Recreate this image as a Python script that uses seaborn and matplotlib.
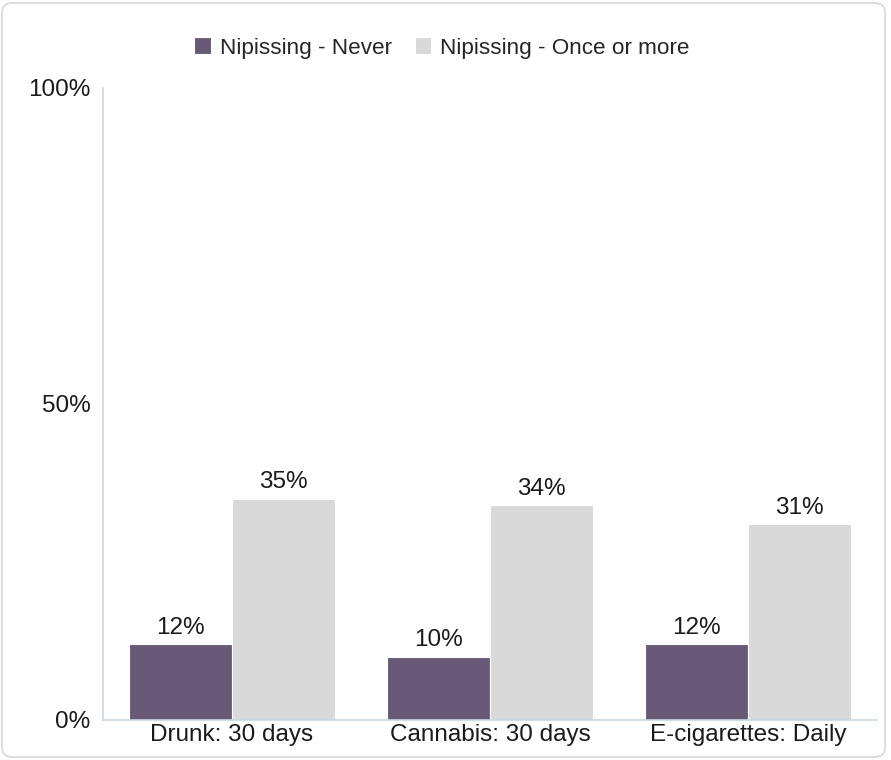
import matplotlib
matplotlib.use("Agg")
import matplotlib.pyplot as plt
import seaborn as sns
import pandas as pd
from matplotlib.patches import FancyBboxPatch

categories = ["Drunk: 30 days", "Cannabis: 30 days", "E-cigarettes: Daily"]
series_names = ["Nipissing - Never", "Nipissing - Once or more"]
never_values = [12, 10, 12]
once_values = [35, 34, 31]
ytick_values = [0, 50, 100]
ytick_labels = ["0%", "50%", "100%"]

colors = ["#68557b", "#d9d9d9"]
axis_color = "#c9d7e6"
fs = 17.5

df = pd.DataFrame({
    "category": categories * 2,
    "series": [series_names[0]] * 3 + [series_names[1]] * 3,
    "value": never_values + once_values,
})

sns.set_theme(style="white")
plt.rcParams["font.family"] = ["Liberation Sans", "DejaVu Sans"]

fig = plt.figure(figsize=(8.91, 7.6), dpi=100)
ax = fig.add_axes([103 / 891, 1 - 720 / 760, (877 - 103) / 891, (720 - 88) / 760])

sns.barplot(data=df, x="category", y="value", hue="series", order=categories,
            hue_order=series_names, palette=colors, width=0.8, gap=0.0,
            edgecolor="white", linewidth=0.8, ax=ax, legend=True)

ax.set_xlim(-0.5, 2.5)
ax.set_ylim(0, 100)
ax.set_xlabel("")
ax.set_ylabel("")
ax.set_yticks(ytick_values)
ax.set_yticklabels(ytick_labels)
ax.tick_params(axis="y", length=0, labelsize=fs, colors="#1a1a1a", pad=9)
ax.tick_params(axis="x", length=0, labelsize=fs, colors="#1a1a1a", pad=3)
ax.set_xticks([-0.5, 0.5, 1.5, 2.5], minor=True)
ax.tick_params(axis="x", which="minor", length=11, width=1, color=axis_color)

for s in ["top", "right"]:
    ax.spines[s].set_visible(False)
for s in ["left", "bottom"]:
    ax.spines[s].set_color(axis_color)
    ax.spines[s].set_linewidth(1.2)

for container in ax.containers:
    ax.bar_label(container, labels=[f"{v:.0f}%" for v in container.datavalues],
                 padding=4, fontsize=fs, color="#1a1a1a")

handles, labels = ax.get_legend_handles_labels()
ax.legend_.remove()
fig.legend(handles, labels, loc="center", bbox_to_anchor=(442 / 891, 1 - 48 / 760),
           ncol=2, frameon=False, fontsize=16.2, handlelength=0.74,
           handleheight=0.74, handletextpad=0.4, columnspacing=1.0)

border = FancyBboxPatch((2 / 891, 3 / 760), 883 / 891, 754 / 760,
                        boxstyle="round,pad=0,rounding_size=0.012",
                        transform=fig.transFigure, fill=False,
                        edgecolor="#d8d8d8", linewidth=1.2)
fig.patches.append(border)

fig.savefig("out.png", dpi=100)
